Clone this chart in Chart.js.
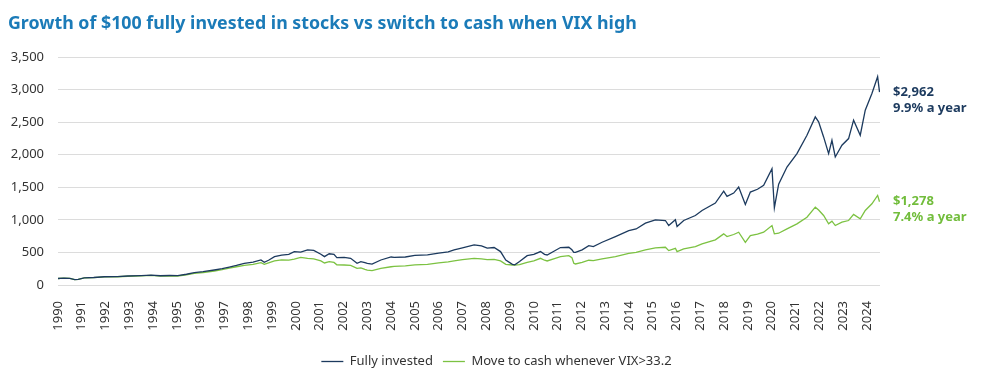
<!DOCTYPE html>
<html>
<head>
<meta charset="utf-8">
<script src="https://cdn.jsdelivr.net/npm/chart.js@4.4.1/dist/chart.umd.min.js"></script>
<style>
  html, body { margin: 0; padding: 0; background: #ffffff; }
  #wrap { position: relative; width: 993px; height: 390px; }
  #title { position: absolute; left: 8px; top: 10px; font-family: "Noto Sans", sans-serif; font-weight: bold; font-size: 17.8px; color: #1b7bb8; white-space: nowrap; }
  canvas { position: absolute; left: 0; top: 0; }
</style>
</head>
<body>
<div id="wrap">
  <canvas id="c" width="993" height="390"></canvas>
  <div id="title">Growth of $100 fully invested in stocks vs switch to cash when VIX high</div>
</div>
<script>
const seriesNames = ['Fully invested', 'Move to cash whenever VIX>33.2'];
const dates = [
  1990.00, 1990.25, 1990.50, 1990.70, 1990.85, 1991.10, 1991.50, 1991.95, 1992.50, 1992.93,
  1993.50, 1993.91, 1994.30, 1994.70, 1995.03, 1995.40, 1995.73, 1996.10, 1996.57, 1996.90,
  1997.20, 1997.50, 1997.83, 1998.20, 1998.53, 1998.67, 1998.85, 1999.10, 1999.40, 1999.70,
  1999.93, 2000.20, 2000.49, 2000.75, 2001.05, 2001.20, 2001.40, 2001.60, 2001.72, 2002.03,
  2002.30, 2002.57, 2002.73, 2002.90, 2003.00, 2003.20, 2003.57, 2004.00, 2004.13, 2004.60,
  2005.00, 2005.53, 2006.00, 2006.40, 2006.65, 2007.00, 2007.49, 2007.80, 2008.04, 2008.33,
  2008.60, 2008.82, 2009.10, 2009.20, 2009.40, 2009.72, 2010.00, 2010.28, 2010.45, 2010.56,
  2010.90, 2011.12, 2011.47, 2011.60, 2011.68, 2011.75, 2012.03, 2012.31, 2012.50, 2012.87,
  2013.43, 2013.99, 2014.30, 2014.69, 2015.11, 2015.53, 2015.67, 2015.95, 2016.02, 2016.30,
  2016.79, 2017.07, 2017.63, 2017.98, 2018.12, 2018.40, 2018.61, 2018.89, 2019.10, 2019.40,
  2019.66, 2020.01, 2020.11, 2020.29, 2020.64, 2021.06, 2021.48, 2021.83, 2021.97, 2022.18,
  2022.39, 2022.53, 2022.67, 2022.95, 2023.23, 2023.44, 2023.72, 2023.93, 2024.21, 2024.45,
  2024.53
];
const fullyInvested = [
  100, 104, 103, 82, 86, 110, 115, 127, 130, 138,
  145, 153, 142, 146, 143, 165, 189, 205, 230, 250,
  275, 300, 333, 350, 384, 348, 380, 435, 460, 470,
  513, 505, 539, 530, 472, 435, 480, 472, 420, 425,
  410, 333, 358, 345, 333, 320, 384, 430, 425, 430,
  455, 461, 490, 510, 539, 570, 617, 600, 565, 575,
  513, 384, 318, 310, 360, 451, 470, 513, 470, 461,
  530, 575, 579, 540, 500, 502, 539, 605, 590, 656,
  744, 836, 860, 949, 1001, 990, 913, 1001, 898, 990,
  1067, 1144, 1257, 1441, 1360, 1411, 1503, 1237, 1426, 1470,
  1529, 1786, 1186, 1549, 1811, 2017, 2299, 2581, 2504, 2273,
  2017, 2222, 1965, 2145, 2248, 2530, 2299, 2684, 2941, 3197,
  2962
];
const moveToCash = [
  100, 104, 103, 82, 86, 108, 113, 124, 127, 134,
  140, 147, 137, 140, 138, 157, 178, 192, 215, 235,
  258, 280, 300, 318, 343, 318, 340, 369, 385, 382,
  398, 425, 410, 400, 369, 338, 360, 347, 310, 307,
  300, 255, 262, 240, 229, 222, 255, 280, 286, 295,
  310, 318, 340, 355, 369, 390, 410, 400, 389, 392,
  369, 318, 307, 305, 312, 348, 370, 410, 380, 369,
  410, 435, 451, 420, 333, 323, 348, 380, 375, 400,
  436, 487, 500, 539, 570, 579, 528, 563, 513, 554,
  590, 631, 693, 785, 744, 775, 810, 656, 759, 780,
  810, 913, 785, 795, 862, 939, 1041, 1195, 1150, 1067,
  939, 980, 913, 964, 990, 1083, 1016, 1144, 1247, 1375,
  1278
];
const yearTicks = [1990, 1991, 1992, 1993, 1994, 1995, 1996, 1997, 1998, 1999, 2000, 2001, 2002, 2003, 2004, 2005, 2006, 2007, 2008, 2009, 2010, 2011, 2012, 2013, 2014, 2015, 2016, 2017, 2018, 2019, 2020, 2021, 2022, 2023, 2024];
const endLabels = [['$2,962', '9.9% a year'], ['$1,278', '7.4% a year']];
const seriesColors = ['#1c3a5e', '#7cc242'];
const labelColors = ['#1c3a5e', '#72bd3c'];

const FONT = '"Noto Sans", sans-serif';

const endLabelPlugin = {
  id: 'endLabels',
  afterDatasetsDraw(chart) {
    const ctx = chart.ctx;
    ctx.save();
    ctx.font = 'bold 13px ' + FONT;
    ctx.textAlign = 'left';
    ctx.textBaseline = 'middle';
    chart.data.datasets.forEach((ds, i) => {
      const meta = chart.getDatasetMeta(i);
      const pt = meta.data[meta.data.length - 1];
      const x = chart.chartArea.right + 13;
      ctx.fillStyle = labelColors[i];
      endLabels[i].forEach((line, j) => ctx.fillText(line, x, pt.y + j * 16));
    });
    ctx.restore();
  }
};

new Chart(document.getElementById('c'), {
  type: 'line',
  data: {
    datasets: seriesNames.map((name, i) => ({
      label: name,
      data: dates.map((d, k) => ({ x: d, y: (i === 0 ? fullyInvested : moveToCash)[k] })),
      borderColor: seriesColors[i],
      backgroundColor: seriesColors[i],
      borderWidth: 1.3,
      pointRadius: 0,
      pointStyle: 'line',
      tension: 0
    }))
  },
  options: {
    responsive: false,
    animation: false,
    layout: { padding: { left: 0, right: 0, top: 57, bottom: 12 } },
    plugins: {
      legend: {
        position: 'bottom',
        labels: {
          usePointStyle: true,
          pointStyle: 'line',
          pointStyleWidth: 22,
          color: '#333333',
          font: { family: FONT, size: 13 },
          padding: 10
        }
      },
      tooltip: { enabled: false },
      title: { display: false }
    },
    scales: {
      x: {
        type: 'linear',
        min: 1990,
        max: 2024.55,
        afterBuildTicks(scale) { scale.ticks = yearTicks.map(v => ({ value: v })); },
        afterFit(scale) { scale.height = 60; },
        grid: { display: false },
        border: { display: false },
        ticks: {
          autoSkip: false,
          minRotation: 90,
          maxRotation: 90,
          padding: 8,
          color: '#333333',
          font: { family: FONT, size: 13 },
          callback: v => String(v)
        }
      },
      y: {
        min: 0,
        max: 3500,
        afterFit(scale) { scale.width = 58; },
        grid: { color: '#dcdcdc', drawTicks: false, lineWidth: 1 },
        border: { display: false },
        ticks: {
          stepSize: 500,
          padding: 14,
          color: '#333333',
          font: { family: FONT, size: 13 },
          callback: v => v.toLocaleString('en-US')
        }
      },
      yRight: {
        position: 'right',
        min: 0,
        max: 3500,
        afterFit(scale) { scale.width = 113; },
        grid: { display: false, drawOnChartArea: false },
        border: { display: false },
        ticks: { display: false }
      }
    }
  },
  plugins: [endLabelPlugin]
});
</script>
</body>
</html>
